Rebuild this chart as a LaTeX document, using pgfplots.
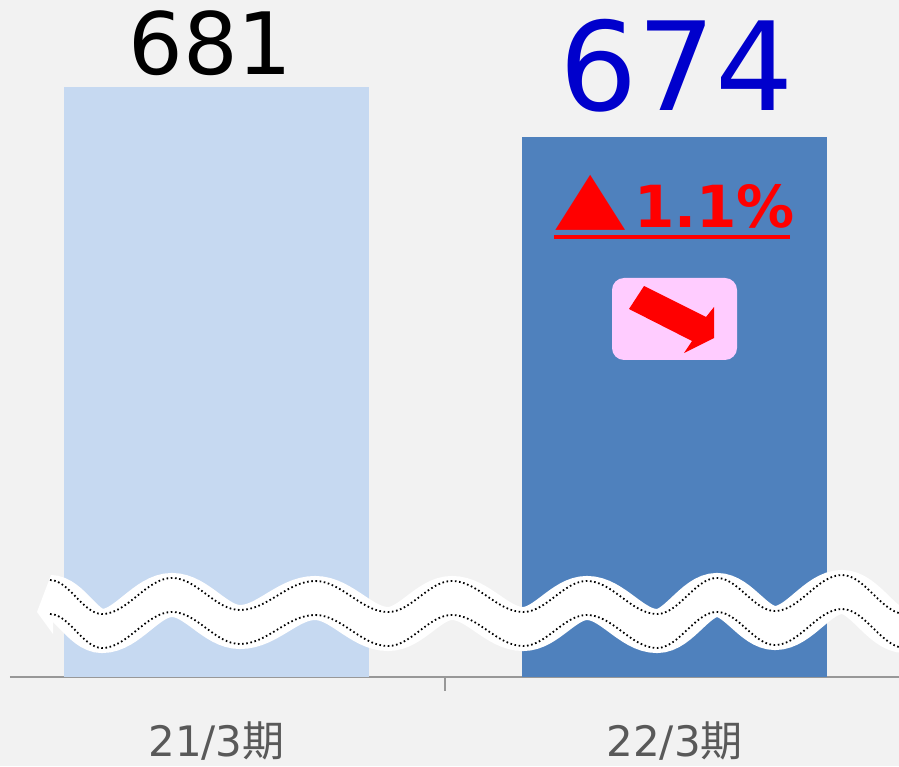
\documentclass[border=0pt]{standalone}
\usepackage{fontspec}
\setmainfont{DejaVu Sans}
\newfontfamily\cjk{Noto Sans CJK JP}
\usepackage{pgfplots}
\pgfplotsset{compat=1.18}
\definecolor{bg}{HTML}{F2F2F2}
\definecolor{barA}{HTML}{C6D9F1}
\definecolor{barB}{HTML}{4F81BD}
\definecolor{valblue}{HTML}{0000CC}
\definecolor{pinkbox}{HTML}{FFCCFF}
\definecolor{axgray}{HTML}{989898}
\definecolor{labgray}{HTML}{595959}
\newcommand{\wave}{(50,580) cos (76,597) sin (102,614) cos (137,596) sin (172,578) cos (206,594) sin (240,610) cos (277.5,595.5) sin (315,581) cos (351.5,596.5) sin (388,612) cos (420,596.5) sin (452,581) cos (487.5,596.5) sin (523,612) cos (555,596.5) sin (587,581) cos (622,597.5) sin (657,614) cos (687,596) sin (717,578) cos (746,594.5) sin (775,611) cos (808.5,593) sin (842,575) cos (873.5,594.5) sin (905,614)}
\begin{document}
\begin{tikzpicture}
\useasboundingbox (0,0) rectangle (899pt,766pt);
\fill[bg] (0,0) rectangle (899pt,766pt);
\begin{axis}[
  at={(10pt,89pt)}, anchor=south west,
  scale only axis, width=889pt, height=677pt,
  xmin=-0.451, xmax=1.490, ymin=598.4, ymax=693.2,
  axis x line*=bottom, axis y line=none,
  x axis line style={draw=axgray, line width=2pt},
  xtick={0,1},
  xticklabels={{21/3{\cjk 期}},{22/3{\cjk 期}}},
  xtick style={draw=none},
  xticklabel style={anchor=base, yshift=-75pt, text=labgray, font=\fontsize{42pt}{42pt}\selectfont},
  ytick=\empty,
  ybar, bar width=305pt, bar shift=0pt,
]
\addplot[fill=barA, draw=none] coordinates {(0,681)};
\addplot[fill=barB, draw=none] coordinates {(1,674)};
\node[anchor=base, inner sep=0pt, text=black, font=\fontsize{86pt}{86pt}\selectfont, yshift=13pt, xshift=-6pt] at (axis cs:0,681) {681};
\node[anchor=base, inner sep=0pt, text=valblue, font=\fontsize{123pt}{123pt}\selectfont, yshift=27pt, xshift=2pt] at (axis cs:1,674) {674};
\end{axis}
\begin{scope}[x=1pt, y=-1pt, yshift=766pt]
  \clip (0,0) rectangle (899,766);
  \draw[axgray, line width=1.5pt] (445,677) -- (445,691);
  % wavy break
  \draw[white, line width=44pt, line cap=butt, shift={(0,17)}] \wave;
  \fill[white] (51,575) -- (37,612) -- (53,634) -- (53,575) -- cycle;
  \draw[black, line width=1.8pt, line cap=butt, dash pattern=on 1.6pt off 2.6pt] \wave;
  \draw[black, line width=1.8pt, line cap=butt, dash pattern=on 1.6pt off 2.6pt, shift={(0,34)}] \wave;
  % change label
  \node[anchor=base west, inner sep=0pt, text=red, font=\fontsize{72pt}{72pt}\selectfont] at (555,221.5) {\scalebox{1.27}[1]{▲}};
  \node[anchor=base west, inner sep=0pt, text=red, font=\bfseries\fontsize{58pt}{58pt}\selectfont] at (634,228) {1.1\%};
  \fill[red] (554,235) rectangle (790,239);
  % pink box with arrow
  \fill[pinkbox, rounded corners=12pt] (612,278) rectangle (737,360);
  \fill[red] (644,286) -- (706,317) -- (714,307) -- (714,338) -- (684,353) -- (692,341) -- (629,309) -- cycle;
\end{scope}
\end{tikzpicture}
\end{document}
